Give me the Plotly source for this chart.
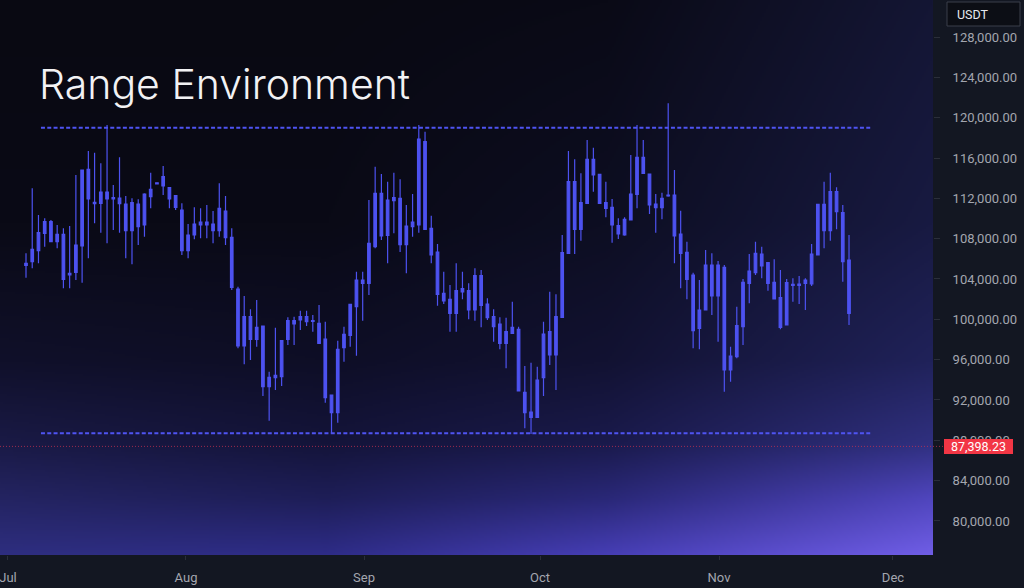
import base64, struct, zlib
import numpy as np
import plotly.graph_objects as go

# ---------------- data ----------------
OPEN = [105354, 105718, 106809, 108528, 109685, 107701, 108429, 104395, 104660, 107272,
        114876, 111603, 111503, 112627, 111933, 112032, 111437, 108792, 111437, 109354,
        112165, 113430, 113223, 113057, 112264, 110842, 106809, 108363, 109652, 109354,
        109454, 108792, 110743, 108131, 103007, 97354, 100263, 98015, 99337, 93320,
        94213, 94312, 98015, 99536, 99932, 100263, 99800, 99602, 98048, 92494,
        90742, 97188, 98412, 101255, 103569, 103569, 107206, 112495, 108330, 111768,
        111999, 107404, 109189, 109354, 117619, 109024, 106677, 102577, 101982, 100594,
        102710, 102842, 100925, 104330, 101520, 100263, 99536, 97619, 98610, 99007,
        92759, 90808, 90279, 94213, 98776, 96461, 100197, 106545, 113653, 108925,
        111504, 115868, 114380, 111570, 111107, 109289, 108363, 109851, 112396, 116066,
        114413, 111438, 111074, 112231, 112330, 108462, 106644, 104396, 99106, 100925,
        105388, 102313, 105156, 94974, 96296, 99272, 103569, 104627, 106479, 105619,
        103669, 102148, 99437, 103470, 103371, 103569, 103503, 106379, 111405, 108793,
        112661, 110578, 105884]
HIGH = [106544, 112991, 110346, 110016, 109850, 109354, 109024, 109255, 114313, 114809,
        116694, 116529, 115471, 119272, 113322, 116066, 112231, 111999, 111900, 112495,
        114545, 113553, 115206, 113090, 112330, 111503, 109454, 111107, 111007, 111338,
        110743, 113487, 112231, 109024, 103238, 102313, 100990, 101916, 99337, 94808,
        99172, 97883, 100197, 100263, 100858, 100858, 100428, 101420, 99767, 92494,
        97883, 99271, 101486, 104726, 104726, 111834, 115140, 114413, 113652, 114545,
        113884, 111338, 112429, 119272, 118611, 110280, 107470, 104726, 103404, 105553,
        104726, 103569, 105057, 104892, 102082, 100991, 100197, 100164, 101751, 99272,
        95371, 95701, 95304, 99767, 102743, 102478, 108363, 116694, 115868, 114479,
        117785, 117025, 114380, 113653, 111934, 110016, 110115, 116297, 119273, 117785,
        114413, 112429, 112562, 121422, 114810, 110776, 107702, 104627, 103900, 106875,
        106545, 105784, 105388, 97288, 101255, 103999, 106479, 107702, 107206, 105619,
        105950, 104892, 103999, 104065, 104297, 104065, 107471, 111405, 113653, 114545,
        113091, 111338, 108363]
LOW = [104131, 105057, 105553, 107206, 107701, 107040, 103073, 103073, 103900, 103635,
       106048, 109520, 108594, 107536, 108859, 108594, 106048, 105453, 107371, 108197,
       111007, 113421, 112330, 111007, 110842, 106379, 106048, 107933, 108032, 108032,
       107536, 108197, 107371, 102908, 97122, 95535, 95965, 97288, 92395, 89948,
       92990, 93387, 97453, 97453, 98941, 99337, 98775, 97618, 91734, 88692,
       89750, 95800, 97288, 96395, 99866, 102412, 107040, 107867, 105553, 108528,
       106677, 104561, 108197, 108594, 108925, 105553, 101354, 101519, 98775, 98775,
       101983, 99999, 99867, 99205, 99933, 97784, 97024, 95139, 98544, 92891,
       89188, 88626, 90279, 92395, 95470, 92990, 100197, 106545, 106479, 107801,
       111504, 112661, 111504, 110115, 107603, 107966, 108297, 109851, 111008, 114413,
       110446, 108595, 109917, 112165, 105553, 103073, 101983, 97123, 97024, 100925,
       100429, 97784, 92825, 93817, 96131, 97453, 101586, 104396, 104065, 102842,
       102016, 99007, 99437, 101751, 101520, 100925, 103305, 106379, 107041, 107801,
       108925, 103735, 99437]
CLOSE = [105553, 106941, 108594, 109685, 107701, 108429, 103966, 104561, 107371, 114809,
         111933, 111470, 112627, 111933, 112065, 111470, 108792, 111570, 109189, 112429,
         112892, 113540, 114148, 111933, 111107, 106809, 108363, 109454, 109354, 109652,
         108792, 111007, 108098, 103172, 97354, 100263, 98015, 99205, 93320, 94246,
         94444, 97883, 99866, 99866, 100263, 99767, 99880, 97618, 92229, 90742,
         97023, 98511, 101486, 103900, 103900, 107536, 112495, 108264, 111834, 112065,
         107404, 109255, 109652, 117884, 108925, 106379, 102478, 101817, 100594, 102842,
         103040, 100925, 104330, 101387, 100164, 99272, 97619, 98776, 99205, 92891,
         90742, 90279, 93982, 98544, 96461, 100263, 106611, 113653, 108925, 111570,
         115868, 114314, 111504, 111008, 109355, 108462, 109917, 112429, 116066, 114479,
         111338, 111074, 112000, 112330, 108264, 106545, 103966, 98875, 100925, 105388,
         102313, 105388, 94974, 96362, 99371, 103669, 104793, 106545, 105289, 103569,
         102016, 99205, 103636, 103371, 103503, 103900, 106479, 111405, 108793, 112661,
         110677, 105718, 100594]
CANDLE_INDEX = list(range(len(OPEN)))

MONTH_LABELS = ["Jul", "Aug", "Sep", "Oct", "Nov", "Dec"]
MONTH_POS = [-2.89, 25.66, 54.21, 82.44, 111.15, 139.05]

Y_TICKS = [80000, 84000, 88000, 92000, 96000, 100000, 104000, 108000,
           112000, 116000, 120000, 124000, 128000]

RANGE_HIGH = 119000
RANGE_LOW = 88700
CURRENT_PRICE = 87398.23
TITLE = "Range Environment"

# ---------------- styling ----------------
W, H = 1024, 588
M_L, M_R, M_T, M_B = 0, 91, 0, 33
PW, PH = W - M_L - M_R, H - M_T - M_B
X_RANGE = [-4.17, 145.47]
Y_RANGE = [76625, 131670]
CANDLE = "#4d52f0"
PANEL = "#131722"
LABEL = "#a3a6af"


def background_png():
    """Gradient backdrop for the plot area (dark navy to violet)."""
    us = [0.0, 0.35, 0.65, 1.0]
    vs = [0.0, 0.4, 0.65, 0.8, 0.9, 1.0]
    grid = np.array([
        [(9, 9, 18), (9, 9, 18), (10, 10, 22), (20, 22, 52)],
        [(10, 10, 22), (10, 10, 22), (13, 14, 34), (24, 26, 66)],
        [(16, 16, 42), (14, 14, 38), (18, 18, 50), (32, 34, 90)],
        [(26, 26, 70), (20, 20, 58), (26, 26, 76), (48, 48, 128)],
        [(36, 36, 98), (30, 30, 88), (42, 40, 120), (80, 70, 190)],
        [(46, 46, 128), (46, 44, 135), (70, 62, 180), (112, 94, 230)],
    ], dtype=float)
    w, h = 466, 278
    uu = np.linspace(0, 1, w)
    vv = np.linspace(0, 1, h)
    rows = np.stack([np.stack([np.interp(uu, us, grid[r, :, c]) for c in range(3)], -1)
                     for r in range(len(vs))])  # (nv, w, 3)
    img = np.empty((h, w, 3))
    for c in range(3):
        for x in range(w):
            img[:, x, c] = np.interp(vv, vs, rows[:, x, c])
    img = np.clip(img, 0, 255).astype(np.uint8)
    raw = b"".join(b"\x00" + img[y].tobytes() for y in range(h))

    def chunk(tag, data):
        return (struct.pack(">I", len(data)) + tag + data +
                struct.pack(">I", zlib.crc32(tag + data) & 0xFFFFFFFF))
    png = (b"\x89PNG\r\n\x1a\n" +
           chunk(b"IHDR", struct.pack(">IIBBBBB", w, h, 8, 2, 0, 0, 0)) +
           chunk(b"IDAT", zlib.compress(raw, 9)) + chunk(b"IEND", b""))
    return "data:image/png;base64," + base64.b64encode(png).decode()


fig = go.Figure()
fig.add_trace(go.Candlestick(
    x=CANDLE_INDEX, open=OPEN, high=HIGH, low=LOW, close=CLOSE,
    increasing=dict(line=dict(color=CANDLE, width=1.2), fillcolor=CANDLE),
    decreasing=dict(line=dict(color=CANDLE, width=1.2), fillcolor=CANDLE),
    whiskerwidth=0, showlegend=False, hoverinfo="skip",
))

shapes = []
for lvl in (RANGE_HIGH, RANGE_LOW):
    shapes.append(dict(type="line", xref="x", yref="y", x0=2.4, x1=135.4, y0=lvl, y1=lvl,
                       line=dict(color="#4f54f2", width=1.8, dash="4px,2.3px"), layer="above"))
shapes.append(dict(type="line", xref="paper", yref="y", x0=0, x1=944 / PW,
                   y0=CURRENT_PRICE, y1=CURRENT_PRICE,
                   line=dict(color="rgba(200,50,80,0.75)", width=1, dash="1px,2px"), layer="above"))
shapes.append(dict(type="rect", xref="paper", yref="y", x0=944 / PW, x1=1013 / PW,
                   ysizemode="pixel", yanchor=CURRENT_PRICE, y0=-7.5, y1=7.5,
                   fillcolor="#f23645", line=dict(width=0), layer="above"))
shapes.append(dict(type="rect", xref="paper", yref="paper", x0=947 / PW, x1=1020 / PW,
                   y0=1 - 26 / PH, y1=1 - 2 / PH, fillcolor="#0c0e15",
                   line=dict(color="#3a3e4a", width=1), layer="above"))

annotations = [
    dict(text=TITLE, xref="paper", yref="paper", x=37 / PW, y=1 - 84 / PH,
         xanchor="left", yanchor="middle", showarrow=False,
         font=dict(family="Inter", size=41, color="#f2f2f4", weight=300)),
    dict(text="USDT", xref="paper", yref="paper", x=955 / PW, y=1 - 15 / PH,
         xanchor="left", yanchor="middle", showarrow=False,
         font=dict(family="Roboto", size=12.5, color="#e6e8ee")),
    dict(text=f"{CURRENT_PRICE:,.2f}", xref="paper", yref="y", x=978.5 / PW, y=CURRENT_PRICE,
         xanchor="center", yanchor="middle", showarrow=False,
         font=dict(family="Roboto", size=12.5, color="#ffffff")),
]

fig.update_layout(
    width=W, height=H,
    margin=dict(l=M_L, r=M_R, t=M_T, b=M_B, pad=0),
    paper_bgcolor=PANEL, plot_bgcolor="rgba(0,0,0,0)",
    boxgap=0.42,
    showlegend=False,
    shapes=shapes, annotations=annotations,
    images=[dict(source=background_png(), xref="paper", yref="paper", x=0, y=1,
                 sizex=1, sizey=1, xanchor="left", yanchor="top",
                 sizing="stretch", layer="below")],
    xaxis=dict(range=X_RANGE, rangeslider=dict(visible=False), showgrid=False,
               zeroline=False, showline=False, tickmode="array",
               tickvals=MONTH_POS, ticktext=MONTH_LABELS, ticks="outside",
               ticklen=4, tickcolor="#2a2e39", ticklabelstandoff=6,
               ticklabeloverflow="allow",
               tickfont=dict(family="Roboto", size=13, color=LABEL)),
    yaxis=dict(range=Y_RANGE, side="right", showgrid=False, zeroline=False,
               showline=False, tickmode="array", tickvals=Y_TICKS,
               tickformat=",.2f", ticks="outside", ticklen=6, tickcolor="#2a2e39",
               ticklabelstandoff=10,
               tickfont=dict(family="Roboto", size=13, color=LABEL)),
)

fig.write_html("out.html",
               config={"displayModeBar": False},
               post_script="document.body.style.margin='0';document.body.style.overflow='hidden';")
